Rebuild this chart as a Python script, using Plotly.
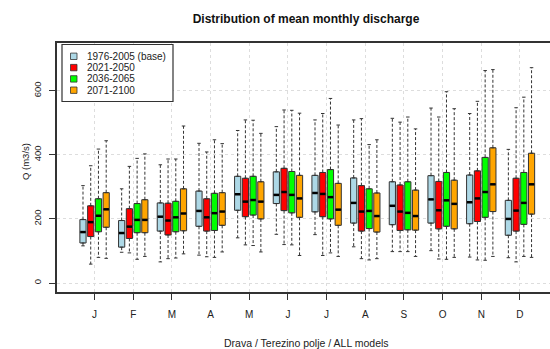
import plotly.graph_objects as go

months = ["J", "F", "M", "A", "M", "J", "J", "A", "S", "O", "N", "D"]
series_names = ["1976-2005 (base)", "2021-2050", "2036-2065", "2071-2100"]
series_colors = ["#ADD8E6", "#FF0000", "#00FF00", "#FFA500"]

base_lo = [116, 96, 66, 87, 141, 152, 151, 113, 98, 101, 81, 79]
base_q1 = [125, 112, 162, 177, 227, 248, 222, 187, 182, 187, 185, 149]
base_med = [159, 156, 207, 225, 277, 275, 281, 250, 241, 261, 252, 200]
base_q3 = [198, 195, 250, 287, 333, 347, 336, 328, 316, 335, 337, 258]
base_hi = [304, 294, 369, 436, 476, 488, 509, 509, 514, 546, 529, 417]

p1_lo = [59, 94, 76, 82, 119, 120, 86, 76, 98, 75, 72, 66]
p1_q1 = [145, 139, 150, 162, 207, 226, 207, 162, 164, 169, 192, 162]
p1_med = [190, 176, 195, 205, 254, 284, 278, 223, 223, 227, 264, 226]
p1_q3 = [241, 232, 249, 263, 327, 358, 345, 304, 306, 317, 350, 327]
p1_hi = [366, 364, 387, 409, 509, 540, 529, 513, 502, 518, 567, 547]

p2_lo = [80, 74, 78, 80, 117, 119, 94, 72, 98, 74, 71, 83]
p2_q1 = [160, 157, 160, 164, 212, 219, 200, 170, 166, 177, 205, 183]
p2_med = [210, 197, 205, 218, 259, 275, 268, 225, 219, 258, 284, 250]
p2_q3 = [263, 248, 255, 280, 333, 348, 354, 294, 316, 345, 392, 345]
p2_hi = [418, 389, 387, 447, 508, 539, 576, 432, 518, 597, 663, 580]

p3_lo = [77, 83, 91, 97, 97, 86, 83, 76, 83, 80, 83, 80]
p3_q1 = [174, 157, 163, 180, 200, 205, 180, 159, 165, 169, 223, 215]
p3_med = [230, 197, 217, 223, 254, 264, 229, 209, 209, 247, 308, 308]
p3_q3 = [282, 260, 294, 282, 316, 336, 311, 281, 290, 321, 422, 405]
p3_hi = [444, 403, 490, 435, 467, 530, 493, 447, 481, 544, 666, 672]

stats = [
    (base_lo, base_q1, base_med, base_q3, base_hi),
    (p1_lo, p1_q1, p1_med, p1_q3, p1_hi),
    (p2_lo, p2_q1, p2_med, p2_q3, p2_hi),
    (p3_lo, p3_q1, p3_med, p3_q3, p3_hi),
]
offsets = [-0.3, -0.1, 0.1, 0.3]
box_w = 0.16
cap_half = 0.045

FONT = "Liberation Sans, Arial, sans-serif"
W, H = 550, 349
ML, MT, MB = 57, 43, 57
PW = W - ML
PH = H - MT - MB

def px_x(px):
    return (px - ML) / PW

def px_y(py):
    return (H - MB - py) / PH

fig = go.Figure()
xpos_all = list(range(1, 13))

for k, (lo, q1, med, q3, hi) in enumerate(stats):
    xs = [m + offsets[k] for m in xpos_all]
    fig.add_trace(go.Box(
        x=xs, q1=q1, median=med, q3=q3, lowerfence=q1, upperfence=q3,
        width=box_w, fillcolor=series_colors[k],
        line=dict(color="#333333", width=1),
        name=series_names[k], showlegend=False, hoverinfo="skip",
    ))

for k, (lo, q1, med, q3, hi) in enumerate(stats):
    xs = [m + offsets[k] for m in xpos_all]
    wx, wy, cx, cy, mx, my = [], [], [], [], [], []
    for i, x in enumerate(xs):
        wx += [x, x, None, x, x, None]
        wy += [q3[i], hi[i], None, q1[i], lo[i], None]
        cx += [x - cap_half, x + cap_half, None, x - cap_half, x + cap_half, None]
        cy += [hi[i], hi[i], None, lo[i], lo[i], None]
        mx += [x - box_w / 2 + 0.01, x + box_w / 2 - 0.01, None]
        my += [med[i], med[i], None]
    fig.add_trace(go.Scatter(x=wx, y=wy, mode="lines", showlegend=False, hoverinfo="skip",
                             line=dict(color="#333333", width=1, dash="3px,2px")))
    fig.add_trace(go.Scatter(x=cx, y=cy, mode="lines", showlegend=False, hoverinfo="skip",
                             line=dict(color="#333333", width=1)))
    fig.add_trace(go.Scatter(x=mx, y=my, mode="lines", showlegend=False, hoverinfo="skip",
                             line=dict(color="#000000", width=2.5)))

# manual legend (compact, like R's legend box)
shapes = [dict(type="rect", xref="paper", yref="paper",
               x0=px_x(62), x1=px_x(173), y0=px_y(44.5), y1=px_y(101.5),
               line=dict(color="#333333", width=1.2), fillcolor="white", layer="above")]
annotations = []
row_y = [56.3, 67.6, 78.9, 90.2]
for k, name in enumerate(series_names):
    yy = row_y[k]
    shapes.append(dict(type="rect", xref="paper", yref="paper",
                       x0=px_x(70.5), x1=px_x(77), y0=px_y(yy + 3.2), y1=px_y(yy - 3.2),
                       line=dict(color="#333333", width=0.8), fillcolor=series_colors[k], layer="above"))
    annotations.append(dict(text=name, xref="paper", yref="paper", x=px_x(85), y=px_y(yy),
                            xanchor="left", yanchor="middle", showarrow=False,
                            font=dict(family=FONT, size=10, color="#222222")))

annotations.append(dict(text="Q (m3/s)", xref="paper", yref="paper", x=px_x(25), y=px_y(162),
                        xanchor="center", yanchor="middle", textangle=-90, showarrow=False,
                        font=dict(family=FONT, size=9.5, color="#222222")))
annotations.append(dict(text="Drava / Terezino polje / ALL models", xref="paper", yref="paper",
                        x=px_x(306), y=px_y(343), xanchor="center", yanchor="middle", showarrow=False,
                        font=dict(family=FONT, size=10.5, color="#222222")))

fig.update_layout(
    width=W, height=H,
    margin=dict(l=ML, r=0, t=MT, b=MB),
    paper_bgcolor="white", plot_bgcolor="white",
    boxmode="overlay",
    showlegend=False,
    title=dict(text="<b>Distribution of mean monthly discharge</b>", xref="container", yref="container",
               x=306 / W, y=1 - 19 / H, xanchor="center", yanchor="middle",
               font=dict(family=FONT, size=12, color="#111111")),
    xaxis=dict(range=[0.028, 0.028 + PW / 38.67], tickvals=xpos_all, ticktext=months,
               showline=True, linecolor="#333333", linewidth=1.5, mirror=True,
               ticks="outside", ticklen=6, tickcolor="#333333", tickwidth=1,
               showgrid=True, gridcolor="#dddddd", griddash="dot", gridwidth=1,
               zeroline=False, ticklabelstandoff=6,
               tickfont=dict(family=FONT, size=10, color="#222222")),
    yaxis=dict(range=[-28, 749], tickvals=[0, 200, 400, 600],
               showline=True, linecolor="#333333", linewidth=1.5,
               ticks="outside", ticklen=6, tickcolor="#333333", tickwidth=1,
               showgrid=True, gridcolor="#dddddd", griddash="dot", gridwidth=1,
               zeroline=False, tickangle=-90, ticklabelstandoff=4,
               tickfont=dict(family=FONT, size=9.5, color="#222222")),
    shapes=shapes, annotations=annotations,
)

fig.write_html("out.html")
